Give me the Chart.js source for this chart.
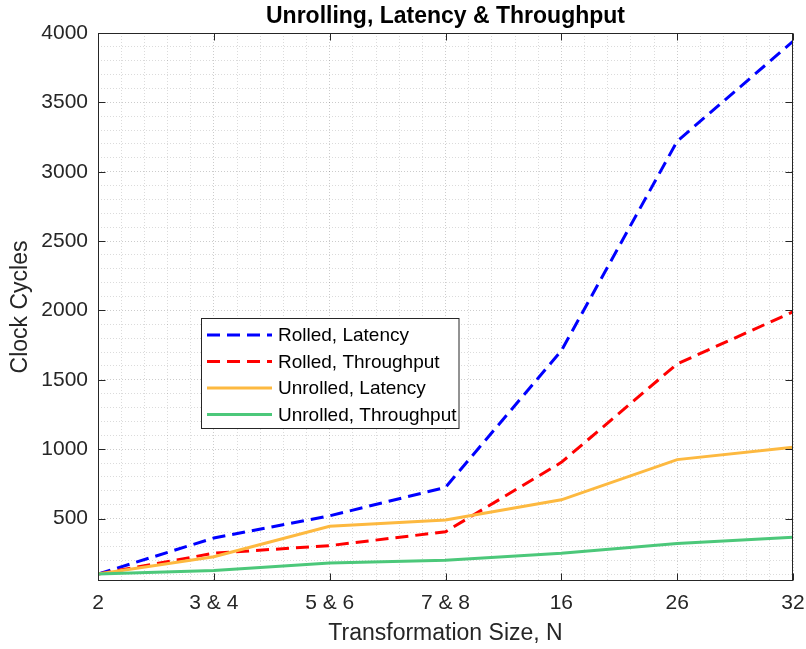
<!DOCTYPE html>
<html><head><meta charset="utf-8">
<script src="https://cdn.jsdelivr.net/npm/chart.js@4.4.1/dist/chart.umd.min.js"></script>
<style>html,body{margin:0;padding:0;background:#fff;} #wrap{width:806px;height:649px;position:relative;}</style>
</head><body><div id="wrap"><canvas id="c" width="806" height="649"></canvas></div>
<script>
const categories = ['2', '3 & 4', '5 & 6', '7 & 8', '16', '26', '32'];
const rolledLatency = [100, 360, 520, 725, 1710, 3220, 3940];
const rolledThroughput = [100, 250, 305, 405, 905, 1615, 1990];
const unrolledLatency = [100, 225, 445, 490, 635, 925, 1015];
const unrolledThroughput = [100, 125, 180, 200, 250, 320, 365];
const seriesNames = ['Rolled, Latency', 'Rolled, Throughput', 'Unrolled, Latency', 'Unrolled, Throughput'];
const yMajorTicks = [500, 1000, 1500, 2000, 2500, 3000, 3500, 4000];
const yMin = 50, yMax = 4000, yMinorStep = 100;
const xMinorDiv = 5;

const FONT = "'Liberation Sans', Arial, Helvetica, sans-serif";
const TXT = '#262626';

function pts(arr) { return arr.map((y, i) => ({x: i, y: y})); }
function isInt(v) { return Math.abs(v - Math.round(v)) < 1e-6; }

const frameLegendPlugin = {
  id: 'frameLegend',
  afterDraw(chart) {
    const ctx = chart.ctx, a = chart.chartArea;
    const xs = chart.scales.x, ys = chart.scales.y;
    ctx.save();
    ctx.strokeStyle = TXT;
    ctx.lineWidth = 1;
    ctx.setLineDash([]);
    const L = Math.round(a.left) + 0.5, R = Math.round(a.right) - 0.5;
    const T = Math.round(a.top) + 0.5, B = Math.round(a.bottom) - 0.5;
    ctx.strokeRect(L, T, R - L, B - T);
    const tl = 7;
    ctx.beginPath();
    for (let i = 0; i < categories.length; i++) {
      const px = Math.round(xs.getPixelForValue(i)) + 0.5;
      ctx.moveTo(px, B); ctx.lineTo(px, B - tl);
      ctx.moveTo(px, T); ctx.lineTo(px, T + tl);
    }
    for (const v of yMajorTicks) {
      const py = Math.round(ys.getPixelForValue(v)) + 0.5;
      ctx.moveTo(L, py); ctx.lineTo(L + tl, py);
      ctx.moveTo(R, py); ctx.lineTo(R - tl, py);
    }
    ctx.stroke();

    // legend
    const bx = 201.5, by = 318.5, bw = 257.5, bh = 110;
    ctx.fillStyle = '#fff';
    ctx.fillRect(bx, by, bw, bh);
    ctx.strokeStyle = TXT;
    ctx.lineWidth = 1;
    ctx.strokeRect(bx, by, bw, bh);
    ctx.font = '19px ' + FONT;
    ctx.textBaseline = 'middle';
    ctx.textAlign = 'left';
    chart.data.datasets.forEach((ds, i) => {
      const cy = 335 + i * 26.5;
      ctx.save();
      ctx.strokeStyle = ds.borderColor;
      ctx.lineWidth = ds.borderWidth;
      ctx.setLineDash(ds.borderDash || []);
      ctx.beginPath();
      ctx.moveTo(207, cy); ctx.lineTo(272, cy);
      ctx.stroke();
      ctx.restore();
      ctx.fillStyle = '#000';
      ctx.fillText(ds.label, 278, cy + 1);
    });
    ctx.restore();
  }
};

const tickFont = {family: FONT, size: 21};
const labelFont = {family: FONT, size: 23};

new Chart(document.getElementById('c'), {
  type: 'line',
  data: {
    datasets: [
      {label: seriesNames[0], data: pts(rolledLatency), borderColor: '#0000ff', borderDash: [13, 7], order: 4},
      {label: seriesNames[1], data: pts(rolledThroughput), borderColor: '#ff0000', borderDash: [13, 7], order: 3},
      {label: seriesNames[2], data: pts(unrolledLatency), borderColor: '#fdb940', order: 2},
      {label: seriesNames[3], data: pts(unrolledThroughput), borderColor: '#4cc87a', order: 1}
    ].map(d => Object.assign({borderWidth: 3, pointRadius: 0, tension: 0, fill: false, borderCapStyle: 'butt'}, d))
  },
  options: {
    responsive: false,
    animation: false,
    devicePixelRatio: 1,
    layout: {padding: {left: 0, right: 0, top: 0, bottom: 0}},
    plugins: {
      legend: {display: false},
      tooltip: {enabled: false},
      title: {
        display: true, text: 'Unrolling, Latency & Throughput', color: '#000',
        font: {family: FONT, size: 23, weight: 'bold'}, padding: {top: 3, bottom: 2.4}, fullSize: false
      }
    },
    scales: {
      x: {
        type: 'linear', min: 0, max: categories.length - 1,
        afterBuildTicks: s => {
          const t = [];
          for (let k = 0; k <= (categories.length - 1) * xMinorDiv; k++) t.push({value: Math.round(k / xMinorDiv * 1000) / 1000});
          s.ticks = t;
        },
        afterFit: s => { s.height = 68; s.paddingRight = 13; s.paddingLeft = 0; },
        ticks: {
          autoSkip: false, maxRotation: 0, minRotation: 0, padding: 10, color: TXT, font: tickFont,
          callback: v => isInt(v) ? categories[Math.round(v)] : ''
        },
        grid: {
          drawTicks: false, lineWidth: 1,
          color: c => (c.tick && isInt(c.tick.value)) ? 'rgba(0,0,0,0.2)' : 'rgba(0,0,0,0.14)'
        },
        border: {display: false, dash: [1, 2]},
        title: {display: true, text: 'Transformation Size, N', color: TXT, font: labelFont, padding: {top: 0, bottom: 2}}
      },
      y: {
        type: 'linear', min: yMin, max: yMax,
        afterBuildTicks: s => {
          const t = [];
          for (let v = yMinorStep; v <= yMax; v += yMinorStep) t.push({value: v});
          s.ticks = t;
        },
        afterFit: s => { s.width = 98; },
        ticks: {
          autoSkip: false, padding: 10, color: TXT, font: tickFont,
          callback: v => yMajorTicks.includes(v) ? String(v) : ''
        },
        grid: {
          drawTicks: false, lineWidth: 1,
          color: c => (c.tick && yMajorTicks.includes(c.tick.value)) ? 'rgba(0,0,0,0.2)' : 'rgba(0,0,0,0.14)'
        },
        border: {display: false, dash: [1, 2]},
        title: {display: true, text: 'Clock Cycles', color: TXT, font: labelFont, padding: {top: 7, bottom: 0}}
      }
    }
  },
  plugins: [frameLegendPlugin]
});
</script></body></html>
